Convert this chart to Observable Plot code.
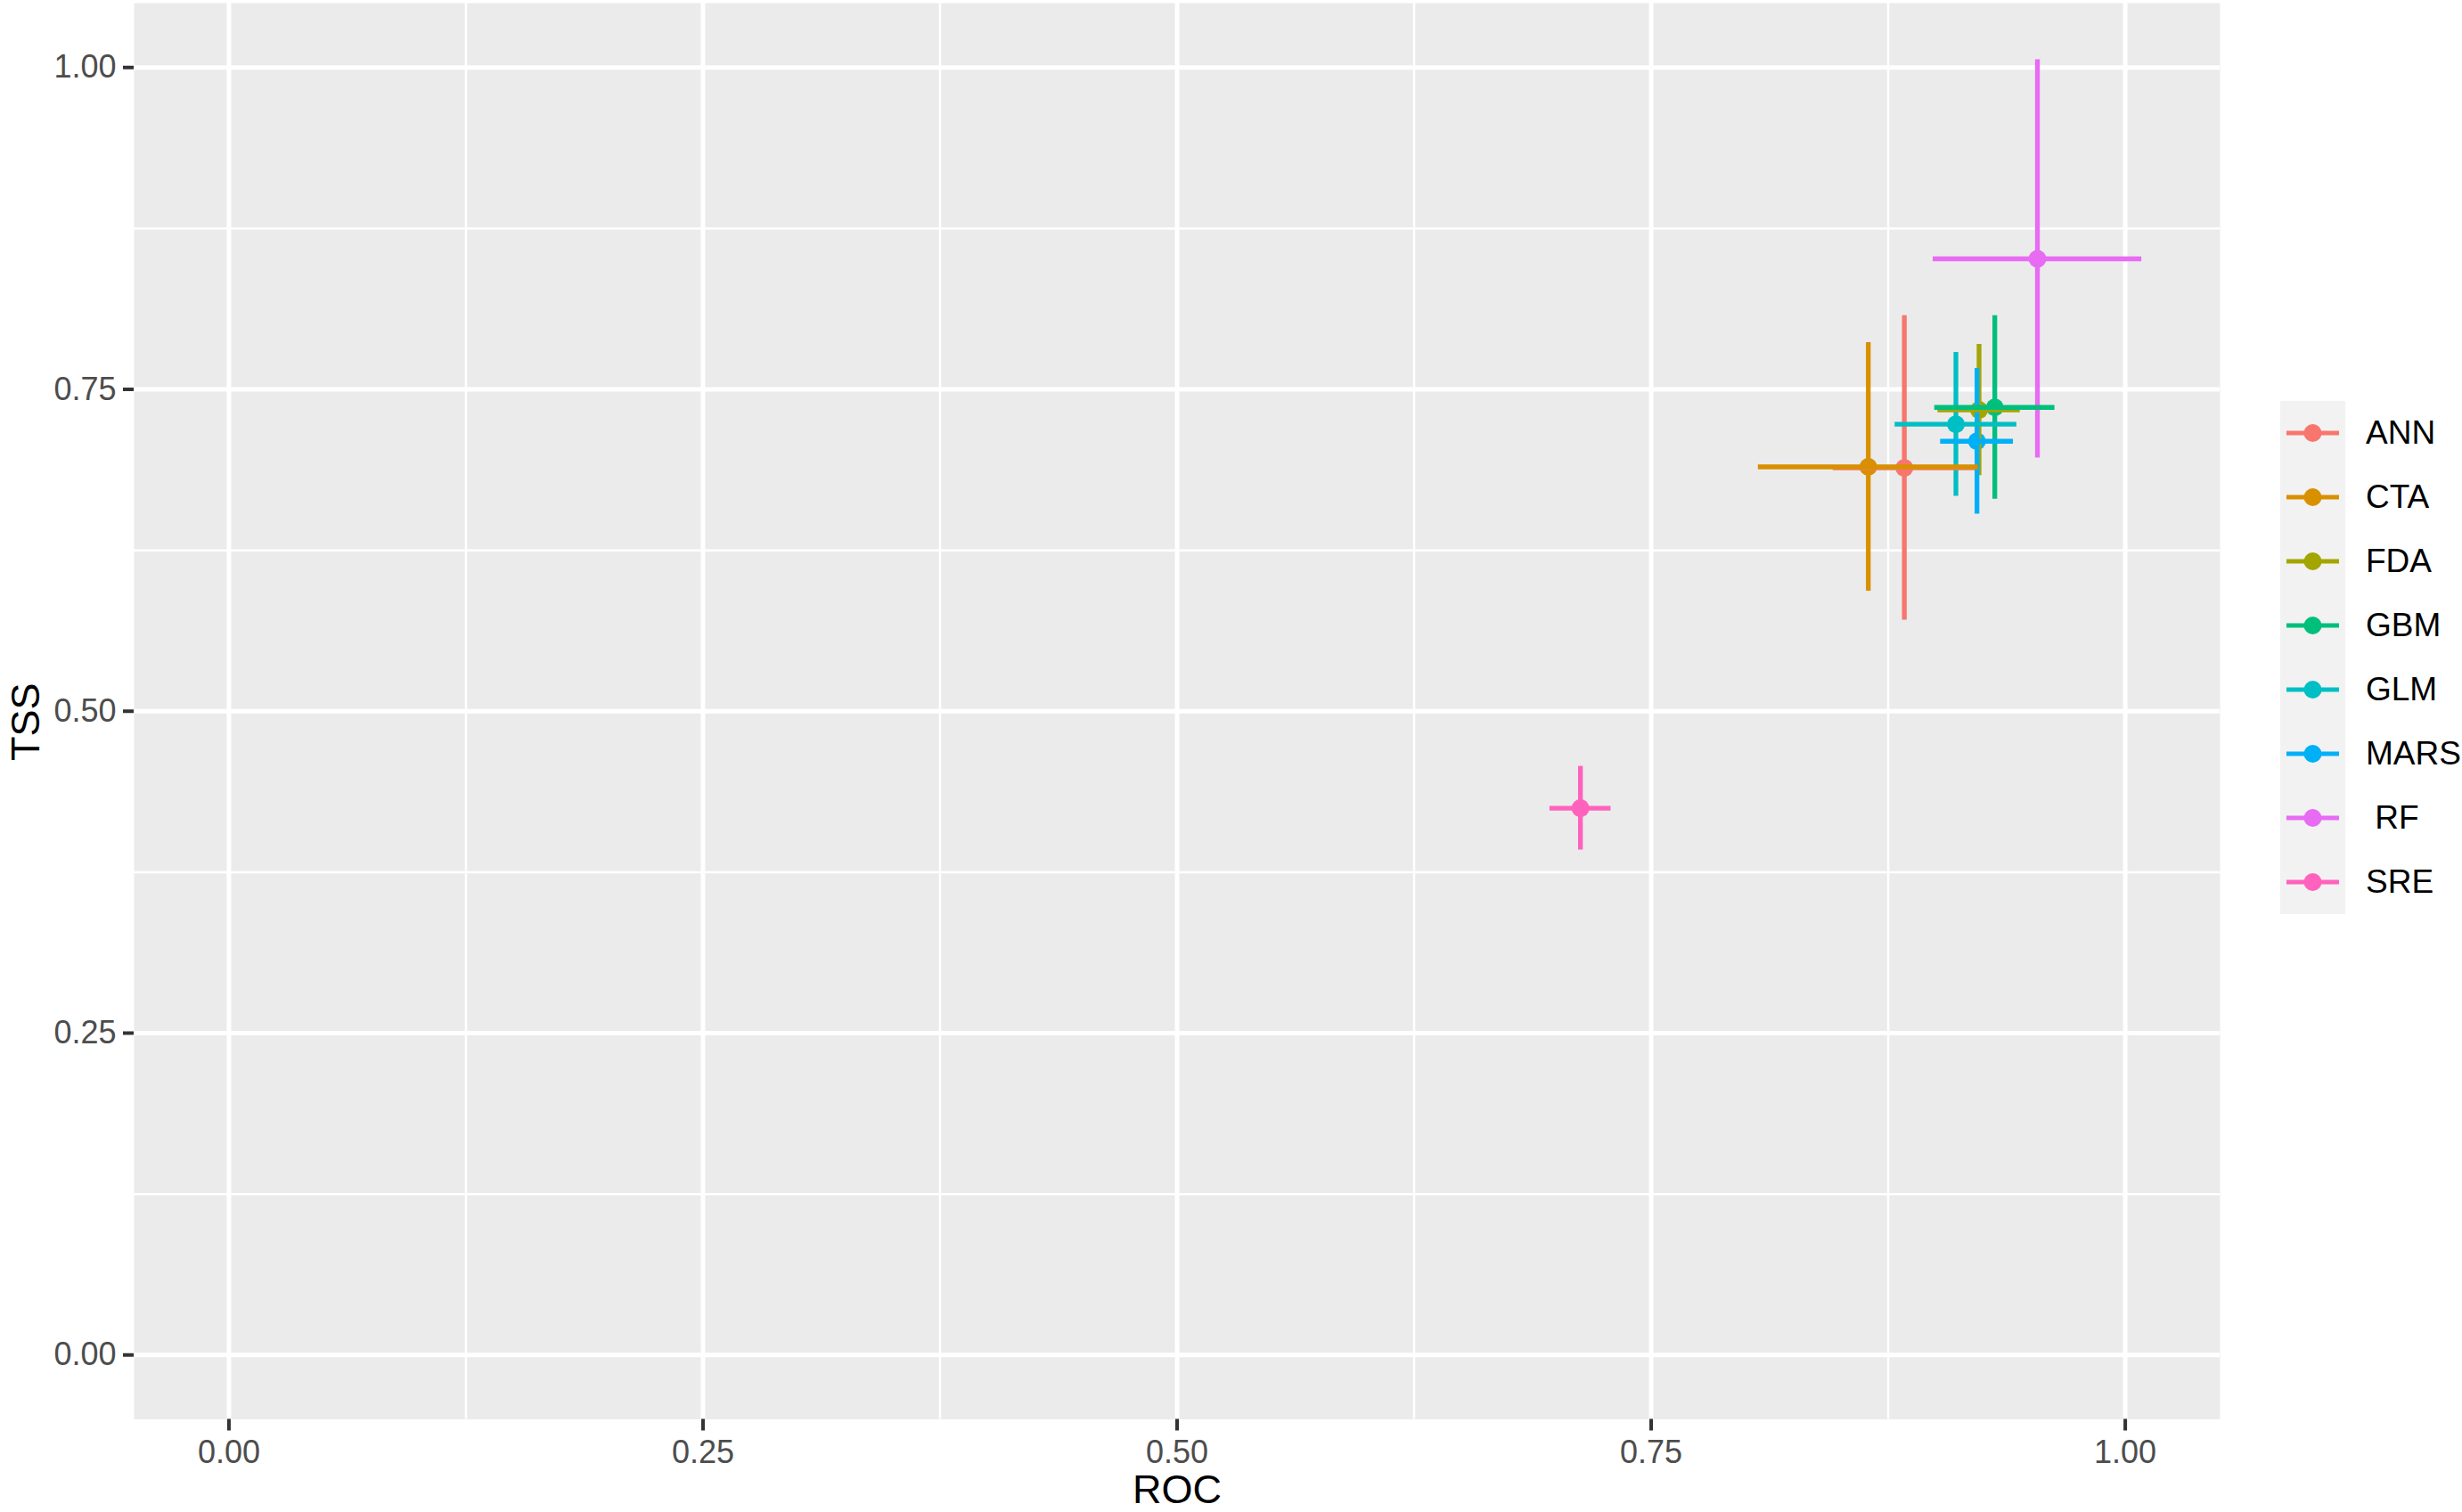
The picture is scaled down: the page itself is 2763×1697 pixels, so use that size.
<!DOCTYPE html>
<html>
<head>
<meta charset="utf-8">
<script src="https://cdn.jsdelivr.net/npm/d3@7"></script>
<script src="https://cdn.jsdelivr.net/npm/@observablehq/plot@0.6"></script>
<style>
  html, body { margin: 0; padding: 0; background: white; }
  #wrap { position: relative; width: 2763px; height: 1697px; overflow: hidden; }
  #legend { position: absolute; left: 2559px; top: 450px; font-family: "Liberation Sans", Arial, sans-serif; }
  .row { display: flex; align-items: center; height: 72px; }
  .lab { margin-left: 23px; font-size: 37px; color: #000; white-space: pre; }
</style>
</head>
<body>
<div id="wrap"><div id="chart"></div><div id="legend"></div></div>
<script>
// ---- data ----
const models   = ["ANN", "CTA", "FDA", "GBM", "GLM", "MARS", "RF", "SRE"];
const legendLabels = ["ANN", "CTA", "FDA", "GBM", "GLM", "MARS", " RF", "SRE"];
const colors   = ["#F8766D", "#D89000", "#A3A500", "#00BF7D", "#00BFC4", "#00B0F6", "#E76BF3", "#FF62BC"];
const rocMean  = [0.8835, 0.8645, 0.9229, 0.9312, 0.9107, 0.9218, 0.9537, 0.7127];
const rocSd    = [0.0375, 0.0580, 0.0217, 0.0317, 0.0321, 0.0192, 0.0550, 0.0161];
const tssMean  = [0.6890, 0.6898, 0.7340, 0.7360, 0.7229, 0.7097, 0.8514, 0.4247];
const tssSd    = [0.1182, 0.0966, 0.0510, 0.0713, 0.0559, 0.0565, 0.1547, 0.0325];
const majorTicks = [0, 0.25, 0.5, 0.75, 1];
const minorTicks = [0.125, 0.375, 0.625, 0.875];
const xTitle = "ROC";
const yTitle = "TSS";

const data = models.map((m, i) => ({
  model: m,
  roc: rocMean[i], rocLo: rocMean[i] - rocSd[i], rocHi: rocMean[i] + rocSd[i],
  tss: tssMean[i], tssLo: tssMean[i] - tssSd[i], tssHi: tssMean[i] + tssSd[i]
}));

const font = "'Liberation Sans', Arial, sans-serif";

const chart = Plot.plot({
  width: 2763,
  height: 1697,
  marginLeft: 150,
  marginRight: 272,
  marginTop: 3,
  marginBottom: 104.5,
  style: { fontFamily: font, background: "white", overflow: "visible" },
  x: { domain: [-0.05, 1.05], label: null },
  y: { domain: [-0.05, 1.05], label: null },
  color: { domain: models, range: colors },
  marks: [
    Plot.frame({ fill: "#EBEBEB", stroke: null }),
    Plot.gridX(minorTicks, { stroke: "white", strokeOpacity: 1, strokeWidth: 2.5 }),
    Plot.gridY(minorTicks, { stroke: "white", strokeOpacity: 1, strokeWidth: 2.5 }),
    Plot.gridX(majorTicks, { stroke: "white", strokeOpacity: 1, strokeWidth: 5 }),
    Plot.gridY(majorTicks, { stroke: "white", strokeOpacity: 1, strokeWidth: 5 }),
    Plot.axisX(majorTicks, {
      tickSize: 13, tickPadding: 10, tickFormat: d3.format(".2f"),
      stroke: "#333333", strokeWidth: 4, fill: "#4D4D4D", fontSize: 36, label: null
    }),
    Plot.axisY(majorTicks, {
      tickSize: 12, tickPadding: 8, tickFormat: d3.format(".2f"),
      stroke: "#333333", strokeWidth: 4, fill: "#4D4D4D", fontSize: 36, label: null
    }),
    Plot.dot(data, { x: "roc", y: "tss", fill: "model", r: 10, stroke: null }),
    Plot.ruleX(data, { x: "roc", y1: "tssLo", y2: "tssHi", stroke: "model", strokeWidth: 5.3 }),
    Plot.ruleY(data, { y: "tss", x1: "rocLo", x2: "rocHi", stroke: "model", strokeWidth: 5.3 }),
    Plot.text([xTitle], { text: d => d, frameAnchor: "bottom", dy: 80, lineAnchor: "middle", textAnchor: "middle", fontSize: 45, fill: "black" }),
    Plot.text([yTitle], { text: d => d, frameAnchor: "left", dx: -121, dy: 12, rotate: -90, lineAnchor: "middle", textAnchor: "middle", fontSize: 45, fill: "black" })
  ]
});
document.getElementById("chart").appendChild(chart);

// ---- legend ----
const legend = document.getElementById("legend");
models.forEach((m, i) => {
  const row = document.createElement("div");
  row.className = "row";
  const ns = "http://www.w3.org/2000/svg";
  const svg = document.createElementNS(ns, "svg");
  svg.setAttribute("width", 73);
  svg.setAttribute("height", 72);
  svg.style.display = "block";
  const bg = document.createElementNS(ns, "rect");
  bg.setAttribute("width", 73); bg.setAttribute("height", 72); bg.setAttribute("fill", "#F2F2F2");
  const ln = document.createElementNS(ns, "line");
  ln.setAttribute("x1", 7); ln.setAttribute("x2", 66); ln.setAttribute("y1", 36); ln.setAttribute("y2", 36);
  ln.setAttribute("stroke", colors[i]); ln.setAttribute("stroke-width", 5);
  const c = document.createElementNS(ns, "circle");
  c.setAttribute("cx", 36.5); c.setAttribute("cy", 36); c.setAttribute("r", 10); c.setAttribute("fill", colors[i]);
  svg.append(bg, ln, c);
  const lab = document.createElement("span");
  lab.className = "lab";
  lab.textContent = legendLabels[i];
  row.append(svg, lab);
  legend.appendChild(row);
});
</script>
</body>
</html>
